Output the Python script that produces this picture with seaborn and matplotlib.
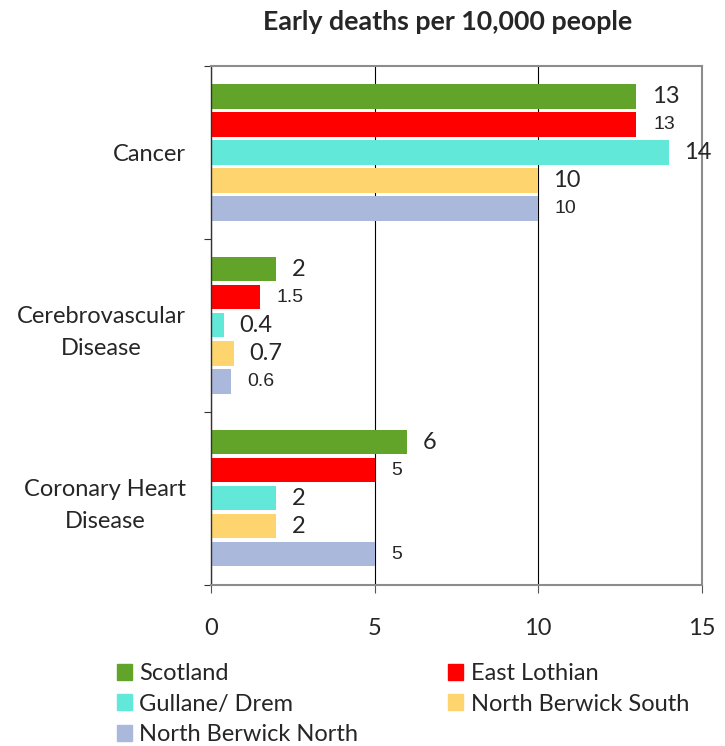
import matplotlib
matplotlib.use("Agg")
import matplotlib.pyplot as plt
import matplotlib.patches as mpatches
import seaborn as sns
import pandas as pd

# Daten
categories = ["Cancer", "Cerebrovascular\nDisease", "Coronary Heart\nDisease"]
series = ["Scotland", "East Lothian", "Gullane/ Drem", "North Berwick South", "North Berwick North"]
scotland = [13, 2, 6]
east_lothian = [13, 1.5, 5]
gullane = [14, 0.4, 2]
nb_south = [10, 0.7, 2]
nb_north = [10, 0.6, 5]
label_texts = {
    "Scotland": ["13", "2", "6"],
    "East Lothian": ["13", "1.5", "5"],
    "Gullane/ Drem": ["14", "0.4", "2"],
    "North Berwick South": ["10", "0.7", "2"],
    "North Berwick North": ["10", "0.6", "5"],
}
colors = ["#62A329", "#FF0000", "#61E8D8", "#FDD46E", "#AAB8DC"]
# Serien mit kleinerer Beschriftung
small_label_series = ["East Lothian", "North Berwick North"]

values = [scotland, east_lothian, gullane, nb_south, nb_north]
rows = []
for s, vals in zip(series, values):
    for c, v in zip(categories, vals):
        rows.append({"category": c, "series": s, "value": v})
df = pd.DataFrame(rows)

sns.set_style("white")
plt.rcParams["font.family"] = ["Lato", "DejaVu Sans"]

fig = plt.figure(figsize=(7.25, 7.46), dpi=100)
ax = fig.add_axes([0.291, 0.216, 0.677, 0.6955])

sns.barplot(
    data=df, y="category", x="value", hue="series",
    order=categories, hue_order=series, palette=colors, saturation=1,
    orient="h", width=0.81, gap=0.14, dodge=True,
    edgecolor="none", ax=ax, legend=False,
)

ax.set_xlim(0, 15)
ax.set_ylim(2.5, -0.5)
ax.set_xticks([0, 5, 10, 15])
ax.set_xticklabels(["0", "5", "10", "15"], fontsize=17)
ax.tick_params(axis="x", length=6, width=0.8, color="#555555", pad=18, direction="out", bottom=True)
ax.xaxis.grid(True, color="black", linewidth=0.8)
ax.set_axisbelow(True)

# Kategorien mittig, Ticks an den Gruppengrenzen
ax.set_yticks([0, 1, 2])
ax.set_yticklabels(categories, fontsize=17, multialignment="center", linespacing=1.6)
ax.tick_params(axis="y", length=0, pad=18)
ax.set_yticks([-0.5, 0.5, 1.5, 2.5], minor=True)
ax.tick_params(axis="y", which="minor", length=5, width=0.8, color="#333333", left=True)

for side in ["top", "right", "bottom"]:
    ax.spines[side].set_color("#8c8c8c")
    ax.spines[side].set_linewidth(1.5)
ax.spines["left"].set_color("#333333")
ax.spines["left"].set_linewidth(1.0)

ax.set_xlabel("")
ax.set_ylabel("")

# Datenbeschriftungen
for container, s in zip(ax.containers, series):
    small = s in small_label_series
    for bar, txt in zip(container.patches, label_texts[s]):
        x = bar.get_x() + bar.get_width()
        y = bar.get_y() + bar.get_height() / 2
        if small:
            ax.annotate(txt, (x, y), xytext=(12, 0), textcoords="offset points",
                        va="center", ha="left", fontsize=14,
                        family=["Liberation Sans", "DejaVu Sans"])
        else:
            ax.annotate(txt, (x, y), xytext=(11, 0), textcoords="offset points",
                        va="center", ha="left", fontsize=17)

fig.text(0.617, 0.97, "Early deaths per 10,000 people", ha="center", va="center",
         fontsize=19.3, fontweight="bold")

# Legende zeilenweise wie im Original
handles = [mpatches.Patch(color=c, label=s) for c, s in zip(colors, series)]
order = [0, 2, 4, 1, 3]
fig.legend(handles=[handles[i] for i in order], loc="upper left", bbox_to_anchor=(0.145, 0.127),
           ncol=2, frameon=False, fontsize=17, handlelength=0.65, handleheight=0.65,
           handletextpad=0.3, columnspacing=3.8, labelspacing=0.4, borderpad=0)

fig.savefig("out.png", dpi=100)
